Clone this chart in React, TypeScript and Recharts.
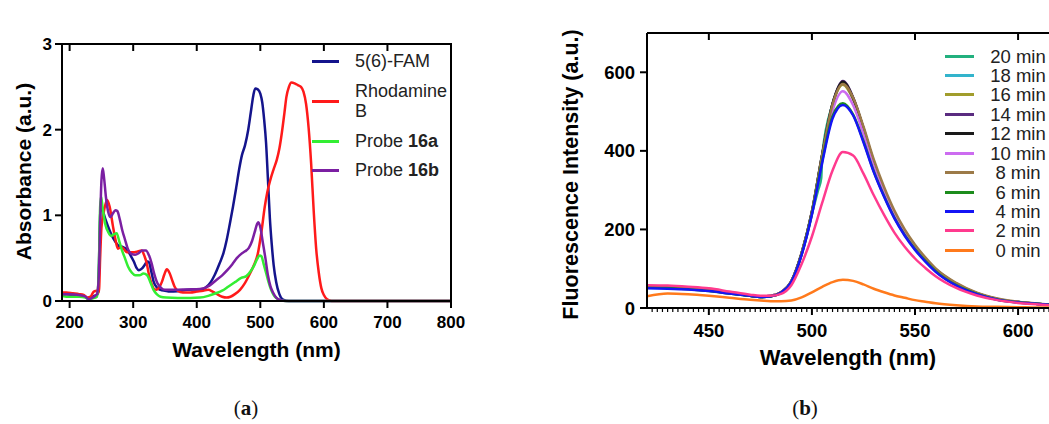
import React from 'react';
import { LineChart, Line, XAxis, YAxis, Legend, Label, ReferenceLine } from 'recharts';

const FONT = '"Liberation Sans", Arial, Helvetica, sans-serif';

// ---------- Panel (a): absorbance spectra ----------
const absXTicks = [200, 300, 400, 500, 600, 700, 800];
const absYTicks = [0, 1, 2, 3];
const absXMin = 188;
const absXMax = 800;
const absYMax = 3;

const famAbs: [number, number][] = [
  [188, 0.07], [195, 0.08], [205, 0.07], [215, 0.06], [222, 0.06], [228, 0.03], [233, 0.03], [239, 0.06], [244, 0.08],
  [246, 0.4], [248, 1.0], [249.5, 1.12], [252, 1.06], [256, 0.96], [261, 0.86], [266, 0.77], [272, 0.69], [278, 0.64],
  [284, 0.63], [290, 0.6], [296, 0.53], [301, 0.46], [305, 0.39], [309, 0.36], [314, 0.38], [318, 0.42], [322, 0.46],
  [325, 0.45], [328, 0.36], [332, 0.23], [337, 0.16], [343, 0.13], [350, 0.12], [358, 0.11], [370, 0.115], [385, 0.13],
  [400, 0.135], [410, 0.14], [416, 0.17], [422, 0.22], [428, 0.3], [436, 0.44], [442, 0.56], [447, 0.71], [452, 0.9],
  [457, 1.1], [462, 1.32], [467, 1.55], [471, 1.7], [476, 1.82], [481, 2.0], [485, 2.2], [489, 2.4], [492, 2.48],
  [496, 2.47], [500, 2.42], [503, 2.32], [506, 2.12], [509, 1.85], [512, 1.42], [515, 0.97], [518, 0.66], [521, 0.42],
  [525, 0.22], [530, 0.08], [535, 0.02], [545, 0], [800, 0],
];

const rhodAbs: [number, number][] = [
  [188, 0.1], [195, 0.1], [205, 0.09], [215, 0.08], [222, 0.07], [228, 0.04], [233, 0.05], [238, 0.11], [243, 0.12],
  [246, 0.1], [248, 0.5], [250, 0.85], [254, 1.05], [259, 1.18], [263, 1.1], [268, 0.88], [272, 0.72], [276, 0.61],
  [281, 0.63], [286, 0.6], [290, 0.57], [302, 0.57], [308, 0.58], [313, 0.59], [318, 0.52], [321, 0.45], [325, 0.3],
  [329, 0.2], [333, 0.14], [337, 0.13], [341, 0.16], [345, 0.22], [349, 0.31], [353, 0.37], [357, 0.33], [361, 0.25],
  [365, 0.17], [370, 0.12], [378, 0.1], [390, 0.1], [400, 0.11], [410, 0.12], [418, 0.13], [425, 0.11], [432, 0.08],
  [440, 0.05], [447, 0.04], [453, 0.05], [460, 0.08], [468, 0.13], [475, 0.2], [483, 0.31], [490, 0.42], [496, 0.55],
  [502, 0.82], [507, 1.1], [511, 1.27], [516, 1.42], [521, 1.54], [526, 1.65], [530, 1.78], [534, 1.97], [538, 2.2],
  [541, 2.38], [545, 2.5], [549, 2.55], [554, 2.54], [559, 2.52], [564, 2.5], [568, 2.44], [572, 2.3], [576, 2.02],
  [580, 1.6], [584, 1.05], [588, 0.6], [592, 0.33], [596, 0.15], [600, 0.07], [605, 0.02], [612, 0], [800, 0],
];

const probe16aAbs: [number, number][] = [
  [188, 0.06], [200, 0.05], [215, 0.05], [225, 0.04], [230, 0.02], [236, 0.03], [243, 0.05], [246, 0.4], [248, 1.1],
  [249.5, 1.22], [252, 1.08], [256, 0.9], [261, 0.8], [265, 0.76], [270, 0.78], [274, 0.79], [278, 0.7], [282, 0.6],
  [287, 0.5], [292, 0.4], [298, 0.33], [303, 0.3], [310, 0.3], [316, 0.32], [322, 0.3], [327, 0.22], [332, 0.13],
  [337, 0.08], [343, 0.05], [352, 0.04], [370, 0.035], [390, 0.035], [405, 0.04], [418, 0.06], [430, 0.09], [440, 0.12],
  [450, 0.17], [460, 0.22], [470, 0.27], [478, 0.29], [485, 0.35], [490, 0.41], [495, 0.49], [499, 0.53], [502, 0.52],
  [505, 0.44], [509, 0.33], [513, 0.22], [517, 0.13], [521, 0.07], [526, 0.03], [532, 0.01], [540, 0], [800, 0],
];

const probe16bAbs: [number, number][] = [
  [188, 0.08], [200, 0.08], [215, 0.07], [225, 0.05], [230, 0.02], [236, 0.04], [243, 0.08], [246, 0.3], [248, 0.9],
  [250, 1.4], [252, 1.55], [254, 1.45], [257, 1.22], [261, 1.03], [264, 0.98], [268, 1.02], [272, 1.06], [275, 1.05],
  [279, 0.95], [283, 0.82], [287, 0.72], [292, 0.6], [297, 0.55], [303, 0.54], [309, 0.56], [314, 0.59], [320, 0.59],
  [325, 0.53], [329, 0.44], [333, 0.32], [338, 0.21], [343, 0.16], [350, 0.13], [365, 0.13], [385, 0.135], [405, 0.14],
  [420, 0.18], [430, 0.24], [440, 0.3], [448, 0.36], [456, 0.43], [463, 0.5], [470, 0.55], [476, 0.58], [482, 0.62],
  [487, 0.7], [491, 0.8], [495, 0.9], [497, 0.92], [500, 0.86], [504, 0.68], [508, 0.5], [512, 0.3], [516, 0.17],
  [520, 0.1], [525, 0.04], [532, 0.01], [540, 0], [800, 0],
];

const absNames = ['5(6)-FAM', 'Rhodamine B', 'Probe 16a', 'Probe 16b'];
const absColors = ['#14148c', '#ff1a1a', '#33ee33', '#7b1fa2'];
const absSeries = [famAbs, rhodAbs, probe16aAbs, probe16bAbs];

// ---------- Panel (b): fluorescence time course ----------
const emXTicks = [450, 500, 550, 600];
const emYTicks = [0, 200, 400, 600];
const emWl = [420, 430, 440, 450, 460, 470, 475, 480, 485, 490, 495, 500, 505, 510, 515, 520, 525, 530, 535, 540, 545, 550, 555, 560, 570, 580, 590, 600, 610, 615];

const em20Wl = [420, 430, 440, 450, 460, 470, 475, 480, 485, 490, 495, 500, 503, 504.5, 505, 510, 515, 520, 525, 530, 535, 540, 545, 550, 555, 560, 570, 580, 590, 600, 610, 615];
const em20 = [53, 52, 49, 44, 37, 31, 28, 30, 39, 67, 138, 240, 300, 330, 388, 518, 574, 533, 456, 370, 300, 241, 194, 157, 125, 98, 61, 37, 22, 15, 10, 8];
const em18 = [54, 53, 50, 45, 38, 31, 28, 30, 39, 67, 139, 244, 390, 519, 572, 533, 457, 371, 301, 242, 195, 157, 125, 98, 61, 37, 22, 15, 10, 8];
const em16 = [54, 53, 50, 45, 38, 31, 28, 30, 39, 67, 138, 243, 388, 516, 568, 531, 456, 371, 301, 242, 195, 157, 125, 98, 61, 37, 22, 15, 10, 8];
const em14 = [55, 54, 51, 46, 39, 32, 29, 31, 40, 68, 140, 245, 390, 520, 578, 536, 458, 372, 302, 243, 196, 158, 126, 99, 62, 38, 23, 15, 10, 8];
const em12 = [54, 53, 50, 45, 38, 31, 28, 30, 40, 68, 140, 246, 392, 520, 576, 534, 457, 371, 301, 242, 195, 157, 125, 98, 61, 37, 22, 15, 10, 8];
const em10 = [55, 54, 51, 46, 39, 32, 29, 31, 40, 67, 137, 238, 378, 502, 552, 516, 443, 362, 295, 238, 192, 155, 123, 97, 60, 37, 22, 15, 10, 8];
const em8 = [55, 54, 51, 46, 39, 32, 29, 31, 40, 68, 140, 245, 390, 518, 570, 535, 462, 378, 308, 248, 200, 161, 129, 101, 64, 39, 24, 16, 11, 9];
const em6 = [52, 51, 48, 43, 37, 31, 28, 30, 39, 66, 136, 240, 375, 488, 521, 492, 425, 348, 285, 230, 186, 150, 120, 94, 58, 36, 21, 14, 10, 8];
const em4 = [50, 49, 47, 43, 37, 31, 28, 30, 39, 66, 135, 238, 370, 482, 517, 490, 422, 346, 283, 228, 184, 148, 118, 92, 57, 35, 21, 14, 10, 8];
const em2 = [58, 57, 54, 50, 42, 34, 31, 31, 36, 58, 112, 182, 268, 350, 397, 388, 342, 287, 237, 192, 156, 126, 102, 81, 51, 32, 20, 13, 9, 7];
const em0 = [30, 37, 35, 31, 26, 21, 19, 17, 17, 19, 27, 40, 54, 66, 72, 69, 60, 49, 40, 32, 26, 20, 16, 12, 7, 4, 3, 2, 1, 1];

const emNames = ['20 min', '18 min', '16 min', '14 min', '12 min', '10 min', '8 min', '6 min', '4 min', '2 min', '0 min'];
const emColors = ['#22b07e', '#33b4cc', '#a19d2c', '#5a2b80', '#1a1a1a', '#cc6cf0', '#9c7a48', '#1c8c1c', '#1414f5', '#ff3a8e', '#ff7a1c'];
const emValues = [em20, em18, em16, em14, em12, em10, em8, em6, em4, em2, em0];
const emWls = [em20Wl, emWl, emWl, emWl, emWl, emWl, emWl, emWl, emWl, emWl, emWl];

const pairs = (p: [number, number][]) => p.map(([x, y]) => ({ x, y }));
const zipped = (xs: number[], ys: number[]) => xs.map((x, i) => ({ x, y: ys[i] }));

// bottom axis of panel (b): majors get a label, minors (every 2.5 nm) only a short tick
const emAllXTicks: number[] = [];
for (let v = 422.5; v <= 615; v += 2.5) emAllXTicks.push(v);

const axisStroke = { stroke: '#000', strokeWidth: 2 };
const tickStyle = { fill: '#000', fontSize: 17, fontWeight: 700, fontFamily: FONT };
const tickStyleB = { fill: '#000', fontSize: 18.5, fontWeight: 700, fontFamily: FONT };
const noLabel = () => <g />;
const TINY = 0.01;

const EmXTick = (props: any) => {
  const { x, y, payload } = props;
  const v = payload.value;
  const major = emXTicks.includes(v);
  const axisY = y - 16;
  return (
    <g>
      <line x1={x} x2={x} y1={axisY} y2={axisY + (major ? 7 : 4)} stroke="#000" strokeWidth={major ? 2 : 1.2} />
      {major && (
        <text x={x} y={y} dy="0.71em" textAnchor="middle" {...tickStyleB}>{v}</text>
      )}
    </g>
  );
};

const xTitle = (text: string, dy: number, size: number) => (props: any) => {
  const vb = props.viewBox || {};
  return (
    <text x={vb.x + vb.width / 2} y={vb.y + dy} textAnchor="middle" fontSize={size} fontWeight={700} fontFamily={FONT} fill="#000">
      {text}
    </text>
  );
};
const yTitle = (text: string, bx: number, shift: number, size: number) => (props: any) => {
  const vb = props.viewBox || {};
  const cy = vb.y + vb.height / 2 + shift;
  return (
    <text x={bx} y={cy} transform={`rotate(-90, ${bx}, ${cy})`} textAnchor="middle" fontSize={size} fontWeight={700} fontFamily={FONT} fill="#000">
      {text}
    </text>
  );
};

const renderLabel = (name: string) => {
  const m = name.match(/^(Probe )(.+)$/);
  if (m) return (<span>{m[1]}<b>{m[2]}</b></span>);
  return <span>{name}</span>;
};

const LegendA = () => (
  <div style={{ position: 'absolute', left: 312, top: 51, display: 'flex', flexDirection: 'column', gap: 10, fontFamily: FONT, fontSize: 18, color: '#222' }}>
    {absNames.map((n, i) => (
      <div key={n} style={{ display: 'flex', alignItems: 'center', marginTop: i === 3 ? -1 : 0 }}>
        <div style={{ width: 27, height: 3, background: absColors[i], marginRight: 16 }} />
        <div style={{ width: 100, lineHeight: '20px', whiteSpace: 'normal' }}>{renderLabel(n)}</div>
      </div>
    ))}
  </div>
);

const LegendB = () => (
  <div style={{ position: 'absolute', left: 405, top: 46.3, fontFamily: FONT, fontSize: 18.5, color: '#222' }}>
    {emNames.map((n, i) => (
      <div key={n} style={{ display: 'flex', alignItems: 'center', height: 19.45 }}>
        <div style={{ width: 29, height: 3, background: emColors[i] }} />
        <div style={{ width: 88, textAlign: 'center', lineHeight: '19px', whiteSpace: 'nowrap' }}>{n}</div>
      </div>
    ))}
  </div>
);

const legendWrap = { left: 0, top: 0, width: 1, height: 1 };
const captionStyle: React.CSSProperties = { position: 'absolute', top: 395, width: 60, textAlign: 'center', fontFamily: '"Liberation Serif", "DejaVu Serif", serif', fontSize: 21, lineHeight: '26px', color: '#111' };

export default function App() {
  return (
    <div style={{ position: 'fixed', left: 0, top: 0, width: 1049, height: 424, overflow: 'hidden', background: '#fff' }}>
      <div style={{ position: 'absolute', left: 0, top: 0 }}>
        <LineChart width={470} height={380} margin={{ top: 44, right: 19, bottom: 19, left: 0 }}>
          <XAxis xAxisId="b" dataKey="x" type="number" domain={[absXMin, absXMax]} allowDataOverflow ticks={absXTicks}
            height={60} tickSize={7} tickMargin={8} axisLine={axisStroke} tickLine={axisStroke} tick={tickStyle}>
            <Label content={xTitle('Wavelength (nm)', 56, 21)} />
          </XAxis>
          <XAxis xAxisId="t" orientation="top" mirror dataKey="x" type="number" domain={[absXMin, absXMax]} allowDataOverflow
            ticks={absXTicks} height={TINY} tickSize={7} axisLine={axisStroke} tickLine={axisStroke} tick={noLabel} />
          <YAxis yAxisId="l" type="number" domain={[0, absYMax]} ticks={absYTicks} width={62} tickSize={7} tickMargin={3}
            axisLine={axisStroke} tickLine={axisStroke} tick={tickStyle}>
            <Label content={yTitle('Absorbance (a.u.)', 30.5, -1, 21)} />
          </YAxis>
          <YAxis yAxisId="r" orientation="right" mirror type="number" domain={[0, absYMax]} ticks={absYTicks} width={TINY}
            tickSize={7} axisLine={axisStroke} tickLine={axisStroke} tick={noLabel} />
          <ReferenceLine xAxisId="b" yAxisId="l" y={absYMax} stroke="#000" strokeWidth={2} />
          <ReferenceLine xAxisId="b" yAxisId="l" x={absXMax} stroke="#000" strokeWidth={2} />
          {absSeries.map((s, i) => (
            <Line key={absNames[i]} xAxisId="b" yAxisId="l" data={pairs(s)} dataKey="y" name={absNames[i]}
              stroke={absColors[i]} strokeWidth={2.5} dot={false} type="monotone" isAnimationActive={false} />
          ))}
          <Legend layout="vertical" align="center" verticalAlign="middle" wrapperStyle={legendWrap} content={LegendA} />
        </LineChart>
        <div style={{ position: 'absolute', left: 61, top: 43, width: 391, height: 258, boxSizing: 'border-box', borderTop: '2px solid #000', borderRight: '2px solid #000', pointerEvents: 'none' }} />
      </div>
      <div style={{ position: 'absolute', left: 540, top: 0 }}>
        <LineChart width={509} height={380} margin={{ top: 33, right: 0, bottom: 10, left: 0 }}>
          <XAxis xAxisId="b" dataKey="x" type="number" domain={[420, 615]} allowDataOverflow ticks={emAllXTicks} interval={0}
            height={62} tickSize={7} tickMargin={9} axisLine={axisStroke} tickLine={false} tick={EmXTick}>
            <Label content={xTitle('Wavelength (nm)', 57, 22)} />
          </XAxis>
          <XAxis xAxisId="t" orientation="top" mirror dataKey="x" type="number" domain={[420, 615]} allowDataOverflow
            ticks={emXTicks} height={TINY} tickSize={7} axisLine={axisStroke} tickLine={axisStroke} tick={noLabel} />
          <YAxis yAxisId="l" type="number" domain={[0, 700]} ticks={emYTicks} width={107} tickSize={7} tickMargin={5}
            axisLine={axisStroke} tickLine={axisStroke} tick={tickStyleB}>
            <Label content={yTitle('Fluorescence Intensity (a.u.)', 37.5, 4, 21.5)} />
          </YAxis>
          {emValues.map((v, i) => (
            <Line key={emNames[i]} xAxisId="b" yAxisId="l" data={zipped(emWls[i], v)} dataKey="y" name={emNames[i]}
              stroke={emColors[i]} strokeWidth={2.5} dot={false} type="monotone" isAnimationActive={false} />
          ))}
          <Legend layout="vertical" align="center" verticalAlign="middle" wrapperStyle={legendWrap} content={LegendB} />
        </LineChart>
      </div>
      <div style={{ ...captionStyle, left: 216 }}>(<b>a</b>)</div>
      <div style={{ ...captionStyle, left: 775 }}>(<b>b</b>)</div>
    </div>
  );
}
